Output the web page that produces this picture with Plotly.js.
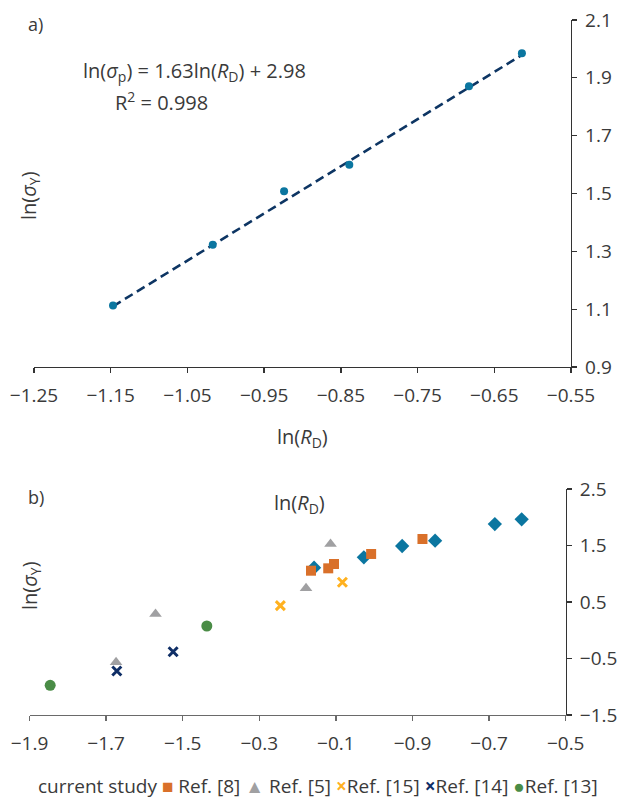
<!DOCTYPE html>
<html>
<head>
<meta charset="utf-8">
<script src="https://cdn.plot.ly/plotly-3.0.1.min.js"></script>
<style>html,body{margin:0;padding:0;background:#fff;}#chart{width:622px;height:799px;}</style>
</head>
<body>
<div id="chart"></div>
<script>
// ---- Panel a) data ----
const aX = [-1.147, -1.017, -0.924, -0.839, -0.683, -0.614];
const aY = [1.113, 1.323, 1.508, 1.599, 1.871, 1.985];
const trendX = [-1.147, -0.614];
const trendY = [1.110, 1.979];
const aXTickVals = [-1.25, -1.15, -1.05, -0.95, -0.85, -0.75, -0.65, -0.55];
const aXTickText = ["\u22121.25", "\u22121.15", "\u22121.05", "\u22120.95", "\u22120.85", "\u22120.75", "\u22120.65", "\u22120.55"];
const aYTickVals = [0.9, 1.1, 1.3, 1.5, 1.7, 1.9, 2.1];
const aYTickText = ["0.9", "1.1", "1.3", "1.5", "1.7", "1.9", "2.1"];

// ---- Panel b) data ----
const seriesNames = ["current study", "Ref. [8]", "Ref. [5]", "Ref. [15]", "Ref. [14]", "Ref. [13]"];
const currentX = [-1.157, -1.027, -0.927, -0.841, -0.685, -0.615];
const currentY = [1.107, 1.291, 1.491, 1.585, 1.880, 1.964];
const ref8X = [-1.165, -1.120, -1.105, -1.008, -0.874];
const ref8Y = [1.054, 1.096, 1.173, 1.350, 1.615];
const ref5X = [-1.114, -1.178, -1.571, -1.674];
const ref5Y = [1.527, 0.742, 0.288, -0.567];
const ref15X = [-1.245, -1.083];
const ref15Y = [0.435, 0.849];
const ref14X = [-1.672, -1.525];
const ref14Y = [-0.721, -0.380];
const ref13X = [-1.846, -1.437];
const ref13Y = [-0.974, 0.075];
const bXTickVals = [-1.9, -1.7, -1.5, -1.3, -1.1, -0.9, -0.7, -0.5];
const bXTickText = ["\u22121.9", "\u22121.7", "\u22121.5", "\u22120.3", "\u22120.1", "\u22120.9", "\u22120.7", "\u22120.5"];
const bYTickVals = [-1.5, -0.5, 0.5, 1.5, 2.5];
const bYTickText = ["\u22121.5", "\u22120.5", "0.5", "1.5", "2.5"];

const colors = ["#0B76A0", "#D9702A", "#A0A0A2", "#FFB11F", "#0F2E66", "#4A8C46"];
const textColor = "#3a3a3a";
const FONT = "Open Sans, sans-serif";

const traces = [
  {x: trendX, y: trendY, xaxis: "x", yaxis: "y", mode: "lines", type: "scatter",
   line: {color: "#0D3563", width: 2.6, dash: "9px,5px"}, showlegend: false, hoverinfo: "skip"},
  {x: aX, y: aY, xaxis: "x", yaxis: "y", mode: "markers", type: "scatter",
   marker: {color: "#0B76A0", size: 8}, showlegend: false},
  {x: currentX, y: currentY, xaxis: "x2", yaxis: "y2", mode: "markers", type: "scatter", name: seriesNames[0],
   marker: {color: colors[0], symbol: "diamond", size: 11}, showlegend: false},
  {x: ref8X, y: ref8Y, xaxis: "x2", yaxis: "y2", mode: "markers", type: "scatter", name: seriesNames[1],
   marker: {color: colors[1], symbol: "square", size: 10}, showlegend: false},
  {x: ref5X, y: ref5Y, xaxis: "x2", yaxis: "y2", mode: "markers", type: "scatter", name: seriesNames[2],
   marker: {color: colors[2], symbol: "triangle-up", size: 11}, showlegend: false},
  {x: ref15X, y: ref15Y, xaxis: "x2", yaxis: "y2", mode: "markers", type: "scatter", name: seriesNames[3],
   marker: {color: colors[3], symbol: "x-thin", size: 9, line: {color: colors[3], width: 3}}, showlegend: false},
  {x: ref14X, y: ref14Y, xaxis: "x2", yaxis: "y2", mode: "markers", type: "scatter", name: seriesNames[4],
   marker: {color: colors[4], symbol: "x-thin", size: 9, line: {color: colors[4], width: 3}}, showlegend: false},
  {x: ref13X, y: ref13Y, xaxis: "x2", yaxis: "y2", mode: "markers", type: "scatter", name: seriesNames[5],
   marker: {color: colors[5], symbol: "circle", size: 11}, showlegend: false}
];

const W = 622, H = 799;
const px = v => v / W;
const py = v => 1 - v / H;

const axisCommon = {
  showgrid: false, zeroline: false, showline: true, ticks: "outside", ticklen: 5,
  tickcolor: "#333", linecolor: "#333", linewidth: 1.3, tickwidth: 1.3,
  tickfont: {family: FONT, size: 19, color: textColor}, tickmode: "array", fixedrange: true
};

// helpers for sub/superscripts with an explicit size
const sub = (t, s) => '<sub><span style="font-size:' + s + 'px">' + t + '</span></sub>';
const sup = (t, s) => '<sup><span style="font-size:' + s + 'px">' + t + '</span></sup>';

// legend as a single line of text built from the series names
const legendSymbols = ["", "\u25A0", "\u25B2", "\u00D7", "\u00D7", "\u25CF"];
let legendText = "";
seriesNames.forEach((n, i) => {
  if (legendSymbols[i]) {
    const bold = legendSymbols[i] === "\u00D7" ? "font-weight:bold;" : "";
    legendText += ' <span style="font-size:19px;' + bold + 'color:' + colors[i] + '">' + legendSymbols[i] + '</span>';
  }
  legendText += (i === 0 ? "" : (i >= 3 ? "" : " ")) + n;
});

const layout = {
  width: W, height: H,
  margin: {l: 0, r: 0, t: 0, b: 0},
  paper_bgcolor: "#fff", plot_bgcolor: "#fff",
  font: {family: FONT, color: textColor, size: 19},
  showlegend: false,
  xaxis: Object.assign({}, axisCommon, {
    domain: [px(34), px(571)], range: [-1.25, -0.55], anchor: "y",
    tickvals: aXTickVals, ticktext: aXTickText, ticklabelstandoff: 6
  }),
  yaxis: Object.assign({}, axisCommon, {
    domain: [py(367), py(20)], range: [0.9, 2.1], anchor: "x", side: "right",
    tickvals: aYTickVals, ticktext: aYTickText, ticklabelstandoff: 4
  }),
  xaxis2: Object.assign({}, axisCommon, {
    domain: [px(29.5), px(565.7)], range: [-1.9, -0.5], anchor: "y2",
    tickvals: bXTickVals, ticktext: bXTickText, ticklabelstandoff: 6, linecolor: "#6a6a6a", tickcolor: "#6a6a6a"
  }),
  yaxis2: Object.assign({}, axisCommon, {
    domain: [py(715), py(489)], range: [-1.5, 2.5], anchor: "x2", side: "right",
    tickvals: bYTickVals, ticktext: bYTickText, ticklabelstandoff: 4
  }),
  annotations: [
    {text: "a)", xref: "paper", yref: "paper", x: px(26), y: py(24), xanchor: "left", yanchor: "middle", showarrow: false, font: {size: 18}},
    {text: "ln(<i>\u03C3</i>" + sub("p", 14) + ") = 1.63ln(<i>R</i>" + sub("D", 14) + ") + 2.98", xref: "paper", yref: "paper",
     x: px(195), y: py(71), xanchor: "center", yanchor: "middle", showarrow: false, font: {size: 20}},
    {text: "R" + sup("2", 14) + " = 0.998", xref: "paper", yref: "paper",
     x: px(161), y: py(101), xanchor: "center", yanchor: "middle", showarrow: false, font: {size: 20}},
    {text: "ln(<i>\u03C3</i>" + sub("Y", 14) + ")", xref: "paper", yref: "paper", x: px(30), y: py(195),
     xanchor: "center", yanchor: "middle", textangle: -90, showarrow: false, font: {size: 20}},
    {text: "ln(<i>R</i>" + sub("D", 14) + ")", xref: "paper", yref: "paper", x: px(302), y: py(437),
     xanchor: "center", yanchor: "middle", showarrow: false, font: {size: 20}},
    {text: "b)", xref: "paper", yref: "paper", x: px(26), y: py(497), xanchor: "left", yanchor: "middle", showarrow: false, font: {size: 18}},
    {text: "ln(<i>R</i>" + sub("D", 14) + ")", xref: "paper", yref: "paper", x: px(299), y: py(503),
     xanchor: "center", yanchor: "middle", showarrow: false, font: {size: 20}},
    {text: "ln(<i>\u03C3</i>" + sub("Y", 14) + ")", xref: "paper", yref: "paper", x: px(30), y: py(585),
     xanchor: "center", yanchor: "middle", textangle: -90, showarrow: false, font: {size: 20}},
    {text: legendText, xref: "paper", yref: "paper", x: px(318), y: py(786),
     xanchor: "center", yanchor: "middle", showarrow: false, font: {size: 19}}
  ]
};

Plotly.newPlot("chart", traces, layout, {displayModeBar: false, staticPlot: true});
</script>
</body>
</html>
